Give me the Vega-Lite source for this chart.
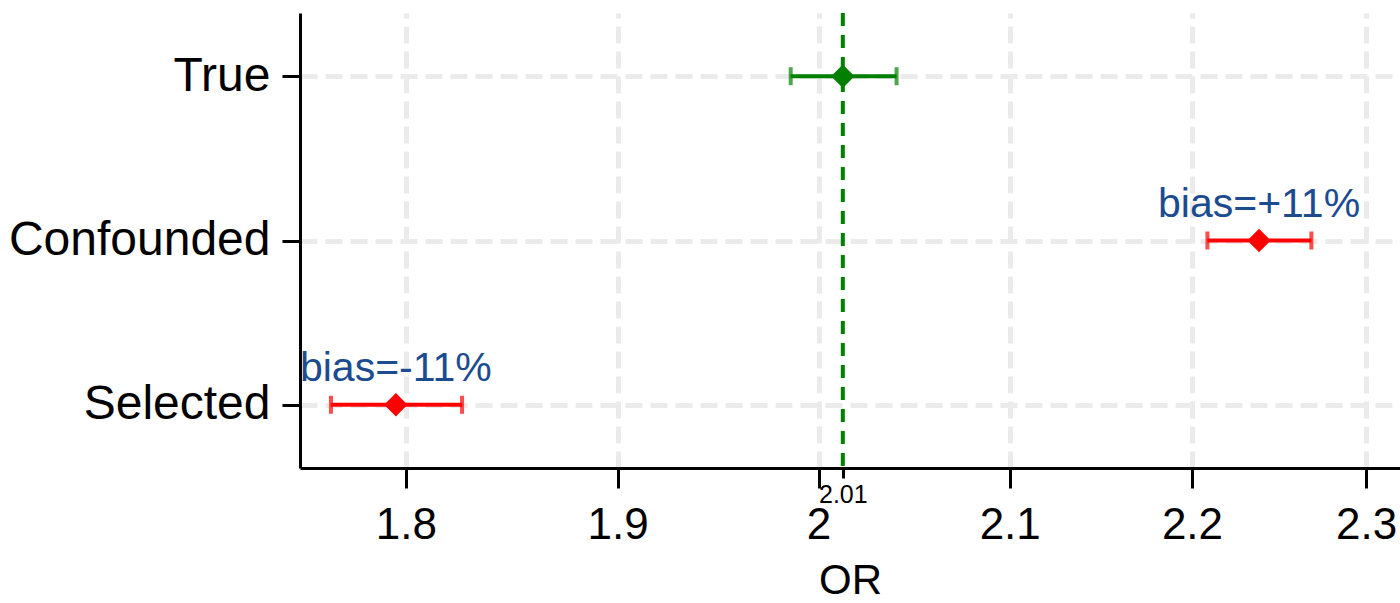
{
  "$schema": "https://vega.github.io/schema/vega-lite/v6.json",
  "width": 1100,
  "height": 455,
  "autosize": {"type": "none"},
  "padding": {"left": 300, "top": 13, "right": 0, "bottom": 135},
  "background": "white",
  "config": {
    "view": {"stroke": null},
    "font": "Liberation Sans",
    "axis": {
      "domainColor": "black",
      "domainWidth": 3,
      "tickColor": "black",
      "tickWidth": 3,
      "gridColor": "#ebebeb",
      "gridWidth": 5,
      "gridDash": [17, 8],
      "labelColor": "black",
      "titleColor": "black",
      "labelFont": "Liberation Sans",
      "titleFont": "Liberation Sans",
      "titleFontWeight": "normal",
      "labelLimit": 0
    }
  },
  "datasets": {
    "est": [
      {"model": "True", "or": 2.0124, "lo": 1.9858, "hi": 2.0402, "grp": "true", "bias": ""},
      {"model": "Confounded", "or": 2.238, "lo": 2.2087, "hi": 2.2681, "grp": "biased", "bias": "bias=+11%"},
      {"model": "Selected", "or": 1.7954, "lo": 1.7659, "hi": 1.826, "grp": "biased", "bias": "bias=-11%"}
    ],
    "ref": [{"truth": 2.0124}]
  },
  "data": {"name": "est"},
  "layer": [
    {
      "data": {"name": "ref"},
      "mark": {"type": "rule", "color": "#008000", "strokeWidth": 4, "strokeDash": [13, 9]},
      "encoding": {
        "x": {
          "field": "truth",
          "type": "quantitative",
          "title": "OR",
          "scale": {"type": "log", "domain": [1.752, 2.32], "nice": false},
          "axis": {
            "values": [1.8, 1.9, 2, 2.0124, 2.1, 2.2, 2.3],
            "labelExpr": "datum.value > 2.005 && datum.value < 2.02 ? '2.01' : format(datum.value, '.1~f')",
            "labelFontSize": {"condition": {"test": "datum.value > 2.005 && datum.value < 2.02", "value": 25}, "value": 44},
            "tickSize": {"condition": {"test": "datum.value > 2.005 && datum.value < 2.02", "value": 10}, "value": 20},
            "labelPadding": {"condition": {"test": "datum.value > 2.005 && datum.value < 2.02", "value": 4}, "value": 15},
            "gridOpacity": {"condition": {"test": "datum.value > 2.005 && datum.value < 2.02", "value": 0}, "value": 1},
            "labelFlush": false,
            "labelOverlap": false,
            "labelLimit": 0,
            "titleFontSize": 42,
            "titleBaseline": "alphabetic",
            "titleY": 125,
            "grid": true
          }
        }
      }
    },
    {
      "mark": {"type": "rule", "strokeWidth": 4},
      "encoding": {
        "x": {"field": "lo", "type": "quantitative", "title": "OR"},
        "x2": {"field": "hi"},
        "y": {
          "field": "model",
          "type": "nominal",
          "sort": ["True", "Confounded", "Selected"],
          "title": null,
          "scale": {"type": "point", "padding": 0.385},
          "axis": {
            "labelFontSize": 48,
            "labelLimit": 0,
            "tickSize": 18,
            "labelPadding": 12,
            "grid": true
          }
        },
        "color": {
          "field": "grp",
          "type": "nominal",
          "scale": {"domain": ["true", "biased"], "range": ["#008000", "#ff0000"]},
          "legend": null
        }
      }
    },
    {
      "mark": {"type": "tick", "thickness": 4, "size": 18, "orient": "vertical"},
      "encoding": {
        "x": {"field": "lo", "type": "quantitative", "title": "OR"},
        "y": {"field": "model", "type": "nominal", "sort": ["True", "Confounded", "Selected"], "title": null},
        "color": {"field": "grp", "type": "nominal", "legend": null}
      }
    },
    {
      "mark": {"type": "tick", "thickness": 4, "size": 18, "orient": "vertical"},
      "encoding": {
        "x": {"field": "hi", "type": "quantitative", "title": "OR"},
        "y": {"field": "model", "type": "nominal", "sort": ["True", "Confounded", "Selected"], "title": null},
        "color": {"field": "grp", "type": "nominal", "legend": null}
      }
    },
    {
      "mark": {"type": "point", "shape": "diamond", "filled": true, "size": 550, "opacity": 1},
      "encoding": {
        "x": {"field": "or", "type": "quantitative", "title": "OR"},
        "y": {"field": "model", "type": "nominal", "sort": ["True", "Confounded", "Selected"], "title": null},
        "color": {"field": "grp", "type": "nominal", "legend": null}
      }
    },
    {
      "transform": [{"filter": "datum.bias != ''"}],
      "mark": {"type": "text", "fontSize": 41, "color": "#1c4c8f", "baseline": "alphabetic", "align": "center", "dy": -24, "font": "Liberation Sans"},
      "encoding": {
        "x": {"field": "or", "type": "quantitative", "title": "OR"},
        "y": {"field": "model", "type": "nominal", "sort": ["True", "Confounded", "Selected"], "title": null},
        "text": {"field": "bias"}
      }
    }
  ]
}
